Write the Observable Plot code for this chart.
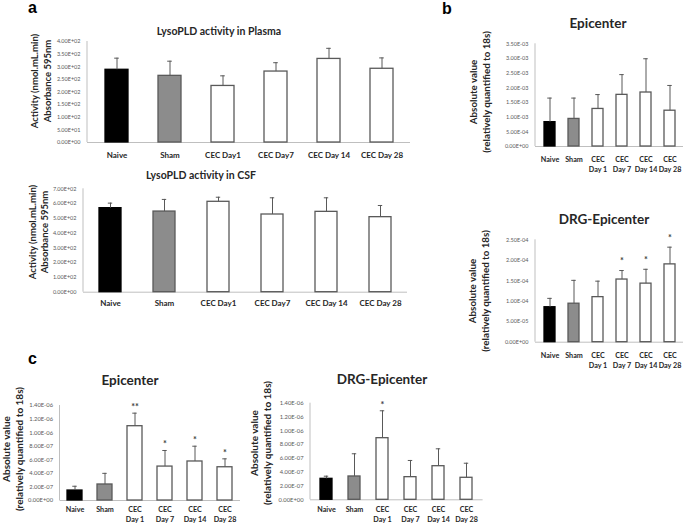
<!DOCTYPE html>
<html><head><meta charset="utf-8">
<script src="https://cdn.jsdelivr.net/npm/d3@7"></script>
<script src="https://cdn.jsdelivr.net/npm/@observablehq/plot@0.6"></script>
<style>
body{margin:0;background:#fff;}
#wrap{position:relative;width:685px;height:524px;overflow:hidden;font-family:Lato,"Open Sans",sans-serif;background:#fff;}
#wrap svg{overflow:visible;position:absolute;}
.t{position:absolute;transform:translate(-50%,-50%);white-space:nowrap;font-weight:bold;color:#262626;line-height:1;}
.yl{position:absolute;transform:translate(-50%,-50%) rotate(-90deg);white-space:pre;text-align:center;font-weight:bold;color:#262626;}
.let{position:absolute;font-family:"Liberation Sans",Arial,sans-serif;font-weight:bold;font-size:16px;color:#000;line-height:1;}
</style></head><body><div id="wrap"></div>
<script>
// ---------- data ----------
const categories = ["Naive","Sham","CEC Day1","CEC Day7","CEC Day 14","CEC Day 28"];
const labelsA = ["Naive","Sham","CEC Day1","CEC Day7","CEC Day 14","CEC Day 28"];
const labelsBC = ["Naive","Sham","CEC\nDay 1","CEC\nDay 7","CEC\nDay 14","CEC\nDay 28"];

const plasmaMean = [288, 264, 224, 281, 331, 292];
const plasmaSD   = [46, 58, 40, 35, 42, 43];
const plasmaTicks = [0, 50, 100, 150, 200, 250, 300, 350, 400];

const csfMean = [569, 546, 612, 526, 544, 508];
const csfSD   = [34, 82, 31, 113, 95, 79];
const csfTicks = [0, 100, 200, 300, 400, 500, 600, 700];

const epiMean = [0.00083, 0.00094, 0.00128, 0.00176, 0.00184, 0.00122];
const epiSD   = [0.00082, 0.00071, 0.00049, 0.00069, 0.00115, 0.00086];
const epiTicks = [0, 0.0005, 0.001, 0.0015, 0.002, 0.0025, 0.003, 0.0035];

const drgMean = [0.0000854, 0.000094, 0.00011, 0.000153, 0.000143, 0.00019];
const drgSD   = [0.0000216, 0.000057, 0.000039, 0.000022, 0.000035, 0.000042];
const drgTicks = [0, 0.00005, 0.0001, 0.00015, 0.0002, 0.00025];
const drgStars = ["", "", "", "*", "*", "*"];

const cEpiMean = [1.47e-7, 2.36e-7, 1.095e-6, 5.0e-7, 5.75e-7, 4.9e-7];
const cEpiSD   = [0.63e-7, 1.64e-7, 1.92e-7, 2.37e-7, 2.25e-7, 1.24e-7];
const cEpiStars = ["", "", "**", "*", "*", "*"];

const cDrgMean = [3.04e-7, 3.38e-7, 8.93e-7, 3.28e-7, 4.87e-7, 3.19e-7];
const cDrgSD   = [0.38e-7, 3.29e-7, 3.97e-7, 2.42e-7, 2.52e-7, 2.11e-7];
const cDrgStars = ["", "", "*", "", "", ""];
const cTicks = [0, 2e-7, 4e-7, 6e-7, 8e-7, 1e-6, 1.2e-6, 1.4e-6];

// ---------- style ----------
const barFill   = ["#000000", "#8c8c8c", "#ffffff", "#ffffff", "#ffffff", "#ffffff"];
const barStroke = ["#000000", "#595959", "#595959", "#595959", "#595959", "#595959"];

const sci = v => {
  const [m, e] = v.toExponential(2).split("e");
  const n = +e;
  return m + "E" + (n < 0 ? "-" : "+") + String(Math.abs(n)).padStart(2, "0");
};

const wrap = document.getElementById("wrap");

function panel(o) {
  const rows = categories.map((c, i) => ({
    cat: c, mean: o.means[i], top: o.means[i] + o.sds[i],
    label: o.labels[i], star: o.stars ? o.stars[i] : "",
    fill: barFill[i], stroke: barStroke[i]
  }));
  const frameW = o.width - o.mL - o.mR;
  const step = frameW / categories.length;
  const bw = step * (1 - o.pad);
  const capInset = Math.max(0, (bw - 4.5) / 2);
  const leftLine = (index, scales, values, dims) => {
    const l = document.createElementNS("http://www.w3.org/2000/svg", "line");
    l.setAttribute("x1", dims.marginLeft); l.setAttribute("x2", dims.marginLeft);
    l.setAttribute("y1", dims.marginTop); l.setAttribute("y2", dims.height - dims.marginBottom);
    l.setAttribute("stroke", "#bfbfbf"); l.setAttribute("stroke-width", 1);
    return l;
  };
  const svg = Plot.plot({
    width: o.width, height: o.height,
    marginLeft: o.mL, marginRight: o.mR, marginTop: o.mT, marginBottom: o.mB,
    style: {fontFamily: "Lato, 'Open Sans', sans-serif", background: "transparent", overflow: "visible"},
    x: {type: "band", domain: categories, paddingInner: o.pad, paddingOuter: o.pad / 2, axis: null},
    y: {domain: [0, o.yMax], axis: null},
    color: {type: "identity"},
    marks: [
      leftLine,
      Plot.ruleY([0], {stroke: "#bfbfbf", strokeWidth: 1}),
      Plot.barY(rows, {x: "cat", y: "mean", fill: "fill", stroke: "stroke", strokeWidth: 1.3}),
      Plot.ruleX(rows, {x: "cat", y1: "mean", y2: "top", stroke: "#595959", strokeWidth: 1}),
      Plot.tickY(rows, {x: "cat", y: "top", stroke: "#595959", strokeWidth: 1, insetLeft: capInset, insetRight: capInset}),
      Plot.text(rows, {x: "cat", y: "top", text: "star", dy: o.starDy || -8, fontSize: 9, fontWeight: "bold", fill: "#404040"}),
      Plot.text(o.ticks, {frameAnchor: "left", y: d => d, text: sci, textAnchor: "end", dx: -7, fontSize: o.tickSize || 5.5, fill: "#595959"}),
      Plot.text(rows, {x: "cat", frameAnchor: "bottom", text: "label", lineAnchor: "top", dy: o.labelDy,
        fontSize: o.labelSize, fontWeight: "bold", fill: "#262626", lineHeight: o.lineHeight || 1})
    ]
  });
  svg.style.left = o.left + "px";
  svg.style.top = o.top + "px";
  wrap.appendChild(svg);
}

function txt(s, cx, cy, size, cls, lh) {
  const d = document.createElement("div");
  d.className = cls;
  d.textContent = s;
  d.style.left = cx + "px"; d.style.top = cy + "px";
  d.style.fontSize = size + "px";
  if (lh) d.style.lineHeight = lh + "px";
  wrap.appendChild(d);
}
function letter(s, x, y) {
  const d = document.createElement("div");
  d.className = "let"; d.textContent = s;
  d.style.left = x + "px"; d.style.top = y + "px";
  wrap.appendChild(d);
}

// panel a
panel({left: 0, top: 0, width: 420, height: 170, mL: 87, mR: 10, mT: 41, mB: 28,
  means: plasmaMean, sds: plasmaSD, yMax: 400, ticks: plasmaTicks, labels: labelsA,
  pad: 0.575, labelDy: 9.5, labelSize: 8});
panel({left: 0, top: 160, width: 420, height: 160, mL: 83, mR: 13, mT: 28.3, mB: 28.3,
  means: csfMean, sds: csfSD, yMax: 700, ticks: csfTicks, labels: labelsA,
  pad: 0.59, labelDy: 8, labelSize: 8});
// panel b
panel({left: 470, top: 0, width: 215, height: 180, mL: 65, mR: 2, mT: 43.3, mB: 34,
  means: epiMean, sds: epiSD, yMax: 0.0035, ticks: epiTicks, labels: labelsBC,
  pad: 0.555, labelDy: 8, labelSize: 7.2, lineHeight: 1.4});
panel({left: 470, top: 200, width: 215, height: 175, mL: 65, mR: 2, mT: 39.3, mB: 33.3,
  means: drgMean, sds: drgSD, yMax: 0.00025, ticks: drgTicks, labels: labelsBC, stars: drgStars,
  pad: 0.555, labelDy: 7.8, labelSize: 7.2, lineHeight: 1.5, starDy: -9});
// panel c
panel({left: 0, top: 390, width: 245, height: 134, mL: 59.5, mR: 5, mT: 15, mB: 24,
  means: cEpiMean, sds: cEpiSD, yMax: 1.4e-6, ticks: cTicks, labels: labelsBC, stars: cEpiStars,
  pad: 0.5, labelDy: 4, labelSize: 7.2, lineHeight: 1.42, starDy: -6, tickSize: 5.8});
panel({left: 245, top: 390, width: 245, height: 134, mL: 65, mR: 7.4, mT: 12.7, mB: 24.7,
  means: cDrgMean, sds: cDrgSD, yMax: 1.4e-6, ticks: cTicks, labels: labelsBC, stars: cDrgStars,
  pad: 0.58, labelDy: 4.7, labelSize: 7.2, lineHeight: 1.42, starDy: -6, tickSize: 5.8});

// titles
txt("LysoPLD activity in Plasma", 219, 31, 10.5, "t");
txt("LysoPLD activity in CSF", 201, 175, 10.5, "t");
txt("Epicenter", 598, 24, 13.5, "t");
txt("DRG-Epicenter", 604, 220, 13.5, "t");
txt("Epicenter", 130, 381, 13.5, "t");
txt("DRG-Epicenter", 382, 380, 13.5, "t");

// y-axis labels
txt("Activity (nmol.mL.min)\nAbsorbance 595nm", 40.5, 81, 9.5, "yl", 12.5);
txt("Activity (nmol.mL.min)\nAbsorbance 595nm", 38.5, 232, 9.5, "yl", 12);
txt("Absolute value\n(relatively quantified to 18s)", 479, 92, 9.8, "yl", 12.5);
txt("Absolute value\n(relatively quantified to 18s)", 478, 291, 9.8, "yl", 12.5);
txt("Absolute value\n(relatively quantified to 18s)", 13, 449, 10, "yl", 13);
txt("Absolute value\n(relatively quantified to 18s)", 260, 443, 10, "yl", 12.5);

// panel letters
letter("a", 28, 0);
letter("b", 442, 1);
letter("c", 28, 351);
</script></body></html>
